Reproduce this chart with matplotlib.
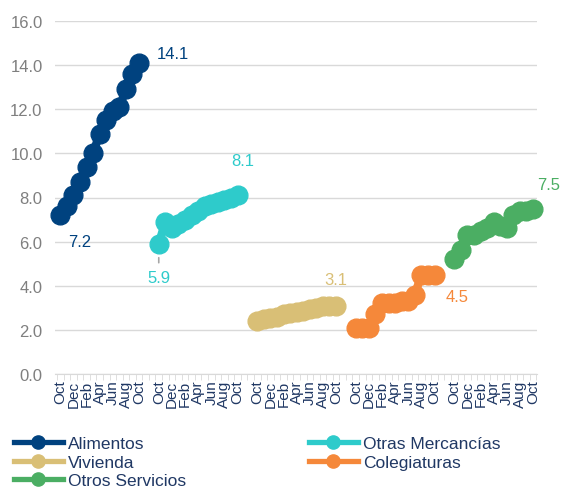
import numpy as np
import matplotlib
matplotlib.use("Agg")
import matplotlib.pyplot as plt
from matplotlib.lines import Line2D
from matplotlib.ticker import FixedLocator, FormatStrFormatter

plt.rcParams['font.family'] = ['Liberation Sans', 'DejaVu Sans']

# ---- data ----
months = ["Oct", "Nov", "Dec", "Jan", "Feb", "Mar", "Apr", "May", "Jun", "Jul", "Aug", "Sep", "Oct"]
series_names = ["Alimentos", "Otras Mercancías", "Vivienda", "Colegiaturas", "Otros Servicios"]
alimentos = [7.2, 7.6, 8.1, 8.7, 9.4, 10.0, 10.9, 11.5, 11.9, 12.1, 12.9, 13.6, 14.1]
otras_mercancias = [5.9, 6.9, 6.6, 6.8, 7.0, 7.2, 7.4, 7.6, 7.7, 7.8, 7.9, 8.0, 8.1]
vivienda = [2.4, 2.5, 2.55, 2.6, 2.7, 2.75, 2.8, 2.85, 2.95, 3.0, 3.1, 3.1, 3.1]
colegiaturas = [2.1, 2.1, 2.1, 2.7, 3.2, 3.2, 3.2, 3.3, 3.3, 3.6, 4.5, 4.5, 4.5]
otros_servicios = [5.2, 5.6, 6.3, 6.3, 6.5, 6.6, 6.9, 6.7, 6.6, 7.2, 7.4, 7.4, 7.5]
y_ticks = [0, 2, 4, 6, 8, 10, 12, 14, 16]

values = [alimentos, otras_mercancias, vivienda, colegiaturas, otros_servicios]
colors = ["#00427F", "#2ECBCB", "#D9BF76", "#F5883A", "#4BAE63"]
gap = 2  # blank categories between groups

# ---- figure ----
fig = plt.figure(figsize=(5.62, 4.89), dpi=100)
ax = fig.add_axes([55/562, 1 - 375/489, 482/562, 353/489])

group_len = len(months) + gap
n_cat = len(values) * group_len - gap
lines = []
for g, (vals, col, name) in enumerate(zip(values, colors, series_names)):
    x = np.arange(len(vals)) + g * group_len
    ln, = ax.plot(x, vals, color=col, lw=6, marker='o', markersize=13.5,
                  solid_capstyle='round', label=name, zorder=3, clip_on=False)
    lines.append(ln)

ax.set_xlim(-0.8, n_cat - 0.4)
ax.set_ylim(0, 16)
ax.yaxis.set_major_locator(FixedLocator(y_ticks))
ax.yaxis.set_major_formatter(FormatStrFormatter('%.1f'))
ax.grid(axis='y', color='#D9D9D9', lw=1)
ax.set_axisbelow(True)
for s in ['top', 'right', 'left']:
    ax.spines[s].set_visible(False)
ax.spines['bottom'].set_color('#D9D9D9')
ax.tick_params(axis='y', length=0, labelsize=12, labelcolor='#7F7F7F', pad=9)

# x tick labels: every other month in each group
tick_pos, tick_lab = [], []
for g in range(len(values)):
    for m in range(0, len(months), 2):
        tick_pos.append(g * group_len + m)
        tick_lab.append(months[m])
ax.set_xticks(tick_pos)
ax.set_xticklabels(tick_lab, rotation=90, fontsize=11, color='#203864')
ax.tick_params(axis='x', which='major', length=0, pad=4)
ax.set_xticks(np.arange(-0.5, n_cat, 1), minor=True)
ax.tick_params(axis='x', which='minor', length=4, color='#D9D9D9', direction='out')

# ---- data labels ----
def lab(series_idx, pt_idx, dx, dy, leader=False):
    vals = values[series_idx]
    xi = pt_idx + series_idx * group_len
    ax.annotate(f"{vals[pt_idx]:.1f}", (xi, vals[pt_idx]),
                xytext=(dx, dy), textcoords='offset points',
                ha='center', va='center', fontsize=12, color=colors[series_idx],
                arrowprops=(dict(arrowstyle='-', color='#A6A6A6', lw=1.2,
                                 shrinkA=3, shrinkB=10) if leader else None),
                zorder=5, annotation_clip=False)

lab(0, 0, 14, -19)
lab(0, 12, 24, 7)
lab(1, 0, 0, -24, leader=True)
lab(1, 12, 4, 25)
lab(2, 12, 0, 19)
lab(3, 12, 16, -16)
lab(4, 12, 11, 17)

# ---- legend ----
proxies = [Line2D([], [], color=c, lw=3.8, marker='o', markersize=9.5) for c in colors]
leg_kw = dict(frameon=False, fontsize=12.5, labelcolor='#203864', handlelength=2.8,
              handletextpad=0.3, labelspacing=0.2, borderaxespad=0, borderpad=0,
              loc='upper left')
fig.legend([proxies[0], proxies[2], proxies[4]], [series_names[0], series_names[2], series_names[4]],
           bbox_to_anchor=(14/562, 1 - 437/489), **leg_kw)
fig.legend([proxies[1], proxies[3]], [series_names[1], series_names[3]],
           bbox_to_anchor=(309/562, 1 - 437/489), **leg_kw)

fig.savefig("out.png", dpi=100)
